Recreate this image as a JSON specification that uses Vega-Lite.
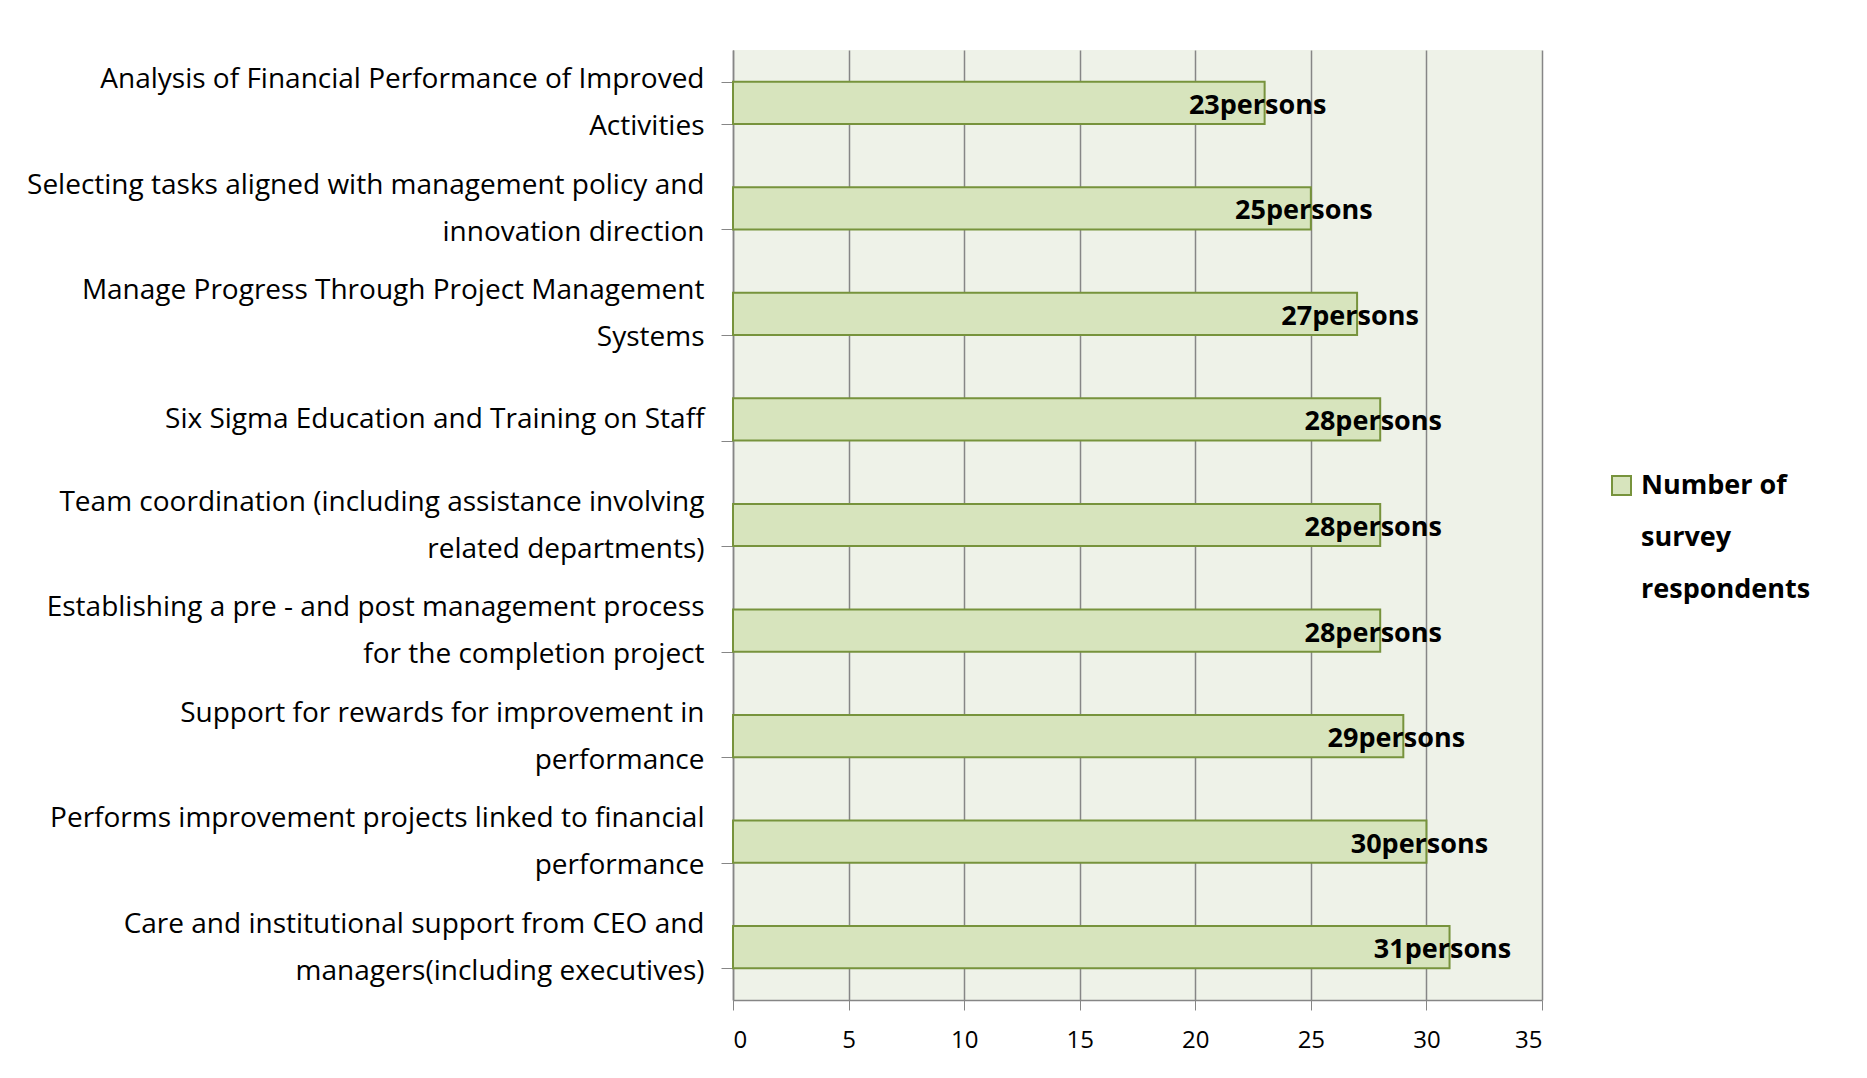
{
  "$schema": "https://vega.github.io/schema/vega-lite/v6.json",
  "width": 809,
  "height": 950,
  "autosize": "none",
  "padding": {"left": 733, "top": 50, "right": 325, "bottom": 78},
  "background": "white",
  "config": {
    "view": {"fill": "#eef2e8", "stroke": null},
    "font": "Open Sans"
  },
  "data": {
    "values": [
      {"task": "Analysis of Financial Performance of Improved\nActivities", "respondents": 23, "label": "23persons", "series": "Number of\nsurvey\nrespondents"},
      {"task": "Selecting tasks aligned with management policy and\ninnovation direction", "respondents": 25, "label": "25persons", "series": "Number of\nsurvey\nrespondents"},
      {"task": "Manage Progress Through Project Management\nSystems", "respondents": 27, "label": "27persons", "series": "Number of\nsurvey\nrespondents"},
      {"task": "Six Sigma Education and Training on Staff", "respondents": 28, "label": "28persons", "series": "Number of\nsurvey\nrespondents"},
      {"task": "Team coordination (including assistance involving\nrelated departments)", "respondents": 28, "label": "28persons", "series": "Number of\nsurvey\nrespondents"},
      {"task": "Establishing a pre - and post management process\nfor the completion project", "respondents": 28, "label": "28persons", "series": "Number of\nsurvey\nrespondents"},
      {"task": "Support for rewards for improvement in\nperformance", "respondents": 29, "label": "29persons", "series": "Number of\nsurvey\nrespondents"},
      {"task": "Performs improvement projects linked to financial\nperformance", "respondents": 30, "label": "30persons", "series": "Number of\nsurvey\nrespondents"},
      {"task": "Care and institutional support from CEO and\nmanagers(including executives)", "respondents": 31, "label": "31persons", "series": "Number of\nsurvey\nrespondents"}
    ]
  },
  "encoding": {
    "y": {
      "field": "task",
      "type": "nominal",
      "sort": null,
      "scale": {"paddingInner": 0.6, "paddingOuter": 0.3},
      "axis": {
        "title": null,
        "labelExpr": "split(datum.label, '\\n')",
        "labelFontSize": 28,
        "labelLineHeight": 47,
        "labelColor": "#000000",
        "labelAlign": "right",
        "labelBaseline": {"condition": {"test": "test(/\\n/, '' + (datum ? datum.value : ''))", "value": "line-bottom"}, "value": "middle"},
        "labelPadding": 17,
        "labelLimit": 900,
        "tickBand": "extent",
        "tickSize": 12,
        "tickColor": "#868686",
        "domainColor": "#868686",
        "domainWidth": 1.5,
        "grid": false
      }
    }
  },
  "layer": [
    {
      "mark": {"type": "bar", "stroke": "#77933c", "strokeWidth": 2},
      "encoding": {
        "x": {
          "field": "respondents",
          "type": "quantitative",
          "scale": {"domain": [0, 35], "nice": false},
          "axis": {
            "title": null,
            "values": [0, 5, 10, 15, 20, 25, 30, 35],
            "grid": true,
            "gridColor": "#868686",
            "gridWidth": 1.5,
            "domainColor": "#868686",
            "domainWidth": 1.5,
            "tickColor": "#868686",
            "tickSize": 10,
            "labelFontSize": 24,
            "labelColor": "#000000",
            "labelPadding": 18
          }
        },
        "color": {
          "field": "series",
          "type": "nominal",
          "scale": {"range": ["#d7e4bd"]},
          "legend": {
            "title": null,
            "orient": "none",
            "legendX": 875,
            "legendY": 422,
            "labelExpr": "split(datum.label, '\\n')",
            "labelFontSize": 27,
            "labelFontWeight": "bold",
            "labelColor": "#000000",
            "labelLimit": 400,
            "symbolType": "square",
            "symbolSize": 361,
            "symbolStrokeColor": "#77933c",
            "symbolStrokeWidth": 2,
            "symbolFillColor": "#d7e4bd",
            "labelOffset": 6,
            "encode": {"labels": {"update": {"lineHeight": {"value": 52}}}}
          }
        }
      }
    },
    {
      "mark": {"type": "text", "align": "center", "baseline": "middle", "dx": -7, "dy": 3, "fontSize": 27, "fontWeight": "bold", "color": "#000000"},
      "encoding": {
        "x": {"field": "respondents", "type": "quantitative"},
        "text": {"field": "label"}
      }
    }
  ]
}
